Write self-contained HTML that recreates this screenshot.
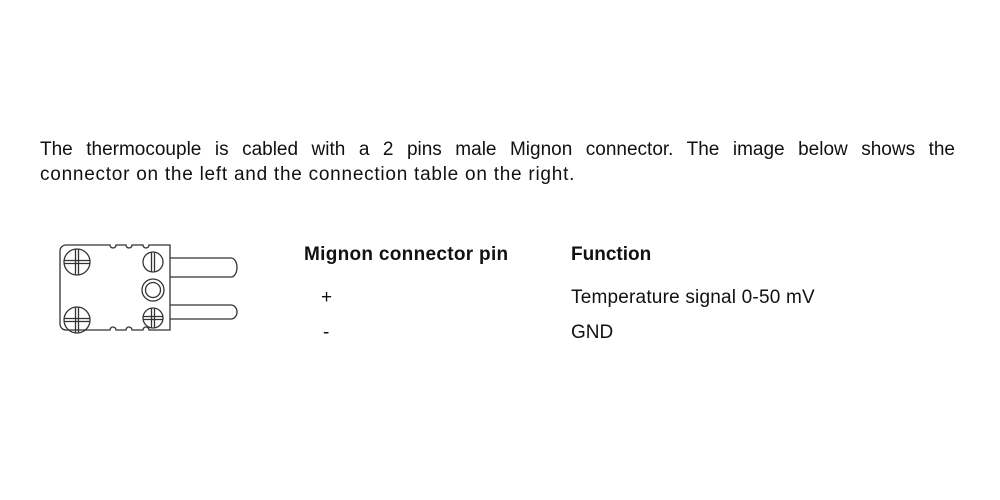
<!DOCTYPE html>
<html><head><style>
body{margin:0;width:1000px;height:500px;background:#fff;font-family:"Liberation Sans",sans-serif;color:#111;position:relative;overflow:hidden}
.l{position:absolute;left:40px;width:915px;font-size:19px;white-space:nowrap}
.j{text-align:justify;text-align-last:justify;white-space:normal}
.t{position:absolute;font-size:19px;white-space:nowrap}
b{font-weight:bold}
</style></head><body>
<div class="l j" style="top:139px">The thermocouple is cabled with a 2 pins male Mignon connector. The image below shows the</div>
<div class="l" style="top:164px;letter-spacing:0.75px">connector on the left and the connection table on the right.</div>
<svg style="position:absolute;left:0;top:0" width="1000" height="500">
<g fill="none" stroke="#333" stroke-width="1.3">
<path d="M170,258 H231 A6,9.5 0 0 1 231,277 H170"/>
<path d="M170,305 H231 A6,7 0 0 1 231,319 H170"/>
<path d="M66,245 H110 a3,3 0 0 0 6,0 H126 a3,3 0 0 0 6,0 H143 a3,3 0 0 0 6,0 H170 V330 H149 a3,3 0 0 0 -6,0 H132 a3,3 0 0 0 -6,0 H116 a3,3 0 0 0 -6,0 H66 a6,6 0 0 1 -6,-6 V251 a6,6 0 0 1 6,-6Z"/>
<circle cx="77" cy="262" r="13"/><path d="M64,260.5H90M64,263.5H90M75.5,249V275M78.5,249V275"/>
<circle cx="77" cy="320" r="13"/><path d="M64,318.5H90M64,321.5H90M75.5,307V333M78.5,307V333"/>
<circle cx="153" cy="262" r="10"/><path d="M151.5,252V272M154.5,252V272"/>
<circle cx="153" cy="290" r="11"/><circle cx="153" cy="290" r="7.5"/>
<circle cx="153" cy="318" r="10"/><path d="M143,316.5H163M143,319.5H163M151.5,308V328M154.5,308V328"/>
</g></svg>
<div class="t" style="left:304px;top:244px;letter-spacing:0.3px"><b>Mignon connector pin</b></div>
<div class="t" style="left:571px;top:244px"><b>Function</b></div>
<div class="t" style="left:321px;top:287px">+</div>
<div class="t" style="left:571px;top:287px;letter-spacing:0.2px">Temperature signal 0-50 mV</div>
<div class="t" style="left:323px;top:322px">-</div>
<div class="t" style="left:571px;top:322px">GND</div>
</body></html>
